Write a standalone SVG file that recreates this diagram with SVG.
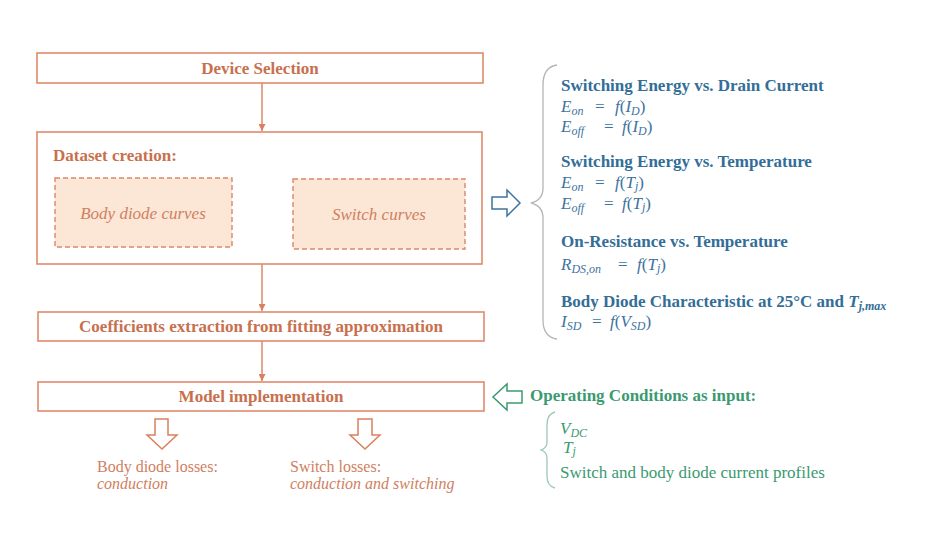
<svg xmlns="http://www.w3.org/2000/svg" width="938" height="533" viewBox="0 0 938 533">
<style>
text{font-family:"Liberation Serif","Times New Roman",serif}
.box{fill:#fff;stroke:#e08b6c;stroke-width:1.6}
.dbox{fill:#fce6d6;stroke:#d9896a;stroke-width:1.4;stroke-dasharray:5 3}
.bt{font-weight:bold;font-size:17px;fill:#c8704e}
.it{font-style:italic;font-size:17px;fill:#cf8060}
.ot{font-size:16px;fill:#d0805f}
.oi{font-style:italic;font-size:16px;fill:#cf8060}
.hb{font-weight:bold;font-size:17px;fill:#336e98}
.m{font-size:17px;fill:#3d73a0}
.mi{font-style:italic}
.sub{font-size:12px;font-style:italic}
.g{font-size:17px;fill:#3a9a70}
.gb{font-weight:bold}
.conn{stroke:#d9805f;stroke-width:1.4;fill:none}
.hol{fill:#fff;stroke-width:1.5}
.brace{fill:none;stroke:#b5b5b5;stroke-width:1.3}
.gbrace{fill:none;stroke:#9ccab4;stroke-width:1.3}
</style>
<defs>
<marker id="ah" viewBox="0 0 10 10" refX="10" refY="5" markerWidth="7" markerHeight="7" orient="auto" markerUnits="userSpaceOnUse">
<path d="M0,0 L10,5 L0,10 z" fill="#d9805f"/>
</marker>
</defs>
<rect width="938" height="533" fill="#fff"/>

<g id="connectors">
<line class="conn" x1="262" y1="83" x2="262" y2="131" marker-end="url(#ah)"/>
<line class="conn" x1="262" y1="264" x2="262" y2="311" marker-end="url(#ah)"/>
<line class="conn" x1="262" y1="341" x2="262" y2="381" marker-end="url(#ah)"/>
<path class="hol" stroke="#d9805f" d="M155,419 H168 V435 H177 L162,449 L147,435 H155 Z"/>
<path class="hol" stroke="#d9805f" d="M358,419 H372 V435 H380 L365,449 L350,435 H358 Z"/>
<path class="hol" stroke="#3d73a0" d="M492,197 H507 V190 L520,203 L507,216 V209 H492 Z"/>
<path class="hol" stroke="#3a9a70" d="M522,391 H507 V384 L493,397 L507,410 V403 H522 Z"/>
</g>

<g id="device-selection">
<rect class="box" x="37" y="53" width="446" height="30"/>
<text class="bt" x="260" y="74" text-anchor="middle">Device Selection</text>
</g>

<g id="dataset-creation">
<rect class="box" x="37" y="132" width="445" height="132"/>
<text class="bt" x="53" y="161">Dataset creation:</text>
</g>
<g id="body-diode-curves">
<rect class="dbox" x="55" y="178" width="177" height="69"/>
<text class="it" x="143" y="219" text-anchor="middle">Body diode curves</text>
</g>
<g id="switch-curves">
<rect class="dbox" x="293" y="179" width="172" height="70"/>
<text class="it" x="379" y="220" text-anchor="middle">Switch curves</text>
</g>

<g id="coefficients">
<rect class="box" x="38" y="312" width="446" height="29"/>
<text class="bt" x="261" y="332" text-anchor="middle">Coefficients extraction from fitting approximation</text>
</g>

<g id="model">
<rect class="box" x="38" y="382" width="446" height="29"/>
<text class="bt" x="261" y="402" text-anchor="middle">Model implementation</text>
</g>

<g id="body-diode-losses">
<text class="ot" x="97" y="472">Body diode losses:</text>
<text class="oi" x="97" y="489">conduction</text>
</g>
<g id="switch-losses">
<text class="ot" x="290" y="472">Switch losses:</text>
<text class="oi" x="290" y="489">conduction and switching</text>
</g>

<g id="datasheet-curves">
<path class="brace" d="M557,65 Q543,67 543,85 V188 Q543,200 531,203 Q543,206 543,218 V320 Q543,337 557,339"/>
<text class="hb" x="561" y="91">Switching Energy vs. Drain Current</text>
<text class="m" y="112"><tspan class="mi" x="561">E</tspan><tspan class="sub" dy="3">on</tspan><tspan x="595" dy="-3">=</tspan><tspan class="mi" x="615">f</tspan>(<tspan class="mi">I</tspan><tspan class="sub" dy="3">D</tspan><tspan dy="-3">)</tspan></text>
<text class="m" y="132"><tspan class="mi" x="561">E</tspan><tspan class="sub" dy="3">off</tspan><tspan x="604" dy="-3">=</tspan><tspan class="mi" x="622">f</tspan>(<tspan class="mi">I</tspan><tspan class="sub" dy="3">D</tspan><tspan dy="-3">)</tspan></text>
<text class="hb" x="561" y="167">Switching Energy vs. Temperature</text>
<text class="m" y="188"><tspan class="mi" x="561">E</tspan><tspan class="sub" dy="3">on</tspan><tspan x="595" dy="-3">=</tspan><tspan class="mi" x="615">f</tspan>(<tspan class="mi">T</tspan><tspan class="sub" dy="2">j</tspan><tspan dy="-2">)</tspan></text>
<text class="m" y="209"><tspan class="mi" x="561">E</tspan><tspan class="sub" dy="3">off</tspan><tspan x="604" dy="-3">=</tspan><tspan class="mi" x="622">f</tspan>(<tspan class="mi">T</tspan><tspan class="sub" dy="2">j</tspan><tspan dy="-2">)</tspan></text>
<text class="hb" x="561" y="247">On-Resistance vs. Temperature</text>
<text class="m" y="270"><tspan class="mi" x="561">R</tspan><tspan class="sub" dy="3">DS,on</tspan><tspan x="618" dy="-3">=</tspan><tspan class="mi" x="637">f</tspan>(<tspan class="mi">T</tspan><tspan class="sub" dy="2">j</tspan><tspan dy="-2">)</tspan></text>
<text class="hb" x="561" y="307">Body Diode Characteristic at 25°C and <tspan font-style="italic">T</tspan><tspan font-size="12" font-style="italic" dy="3">j,max</tspan></text>
<text class="m" y="327"><tspan class="mi" x="561">I</tspan><tspan class="sub" dy="3">SD</tspan><tspan x="592" dy="-3">=</tspan><tspan class="mi" x="610">f</tspan>(<tspan class="mi">V</tspan><tspan class="sub" dy="3">SD</tspan><tspan dy="-3">)</tspan></text>
</g>

<g id="operating-conditions">
<text class="g gb" x="530" y="401">Operating Conditions as input:</text>
<path class="gbrace" d="M555,412 Q547,414 547,425 V442 Q547,448 541,450 Q547,452 547,458 V476 Q547,486 555,488"/>
<text class="g" x="560" y="434"><tspan class="mi">V</tspan><tspan class="sub" dy="3">DC</tspan></text>
<text class="g" x="563" y="453"><tspan class="mi">T</tspan><tspan class="sub" dy="2">j</tspan></text>
<text class="g" x="560" y="478">Switch and body diode current profiles</text>
</g>
</svg>
